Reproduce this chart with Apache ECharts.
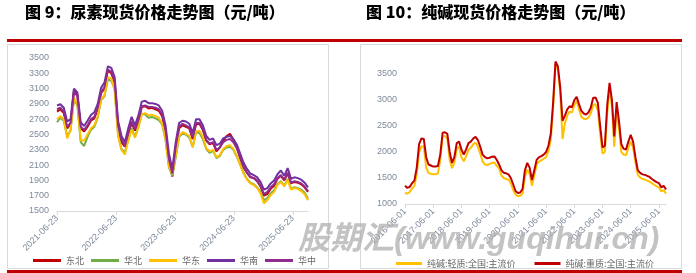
<!DOCTYPE html>
<html><head><meta charset="utf-8">
<script src="https://cdn.jsdelivr.net/npm/echarts@6/dist/echarts.min.js"></script>
<style>html,body{margin:0;padding:0;background:#fff}#c{width:696px;height:273px}</style>
</head><body><div id="c"></div>
<script>
// ---------- Urea (left) ----------
const ureaTickLabels = ['2021-06-23','2022-06-23','2023-06-23','2024-06-23','2025-06-23'];
const ureaStepDays = 21; // one sample every 21 days from 2021-06-23
const ureaNames = ['东北','华北','华东','华南','华中'];
const ureaColors = ['#C00000','#70AD47','#FFC000','#7030A0','#912C8C'];
const urea_dongbei = [2800,2830,2780,2580,2640,3080,3020,2580,2540,2600,2680,2710,2830,3040,3100,3340,3300,3180,2600,2400,2340,2500,2650,2550,2680,2860,2870,2840,2850,2830,2810,2740,2540,2150,1950,2320,2580,2620,2600,2580,2440,2630,2640,2560,2420,2370,2390,2280,2330,2420,2480,2510,2430,2330,2190,2070,2000,1940,1930,1890,1820,1700,1720,1790,1830,1920,1960,1900,1990,1860,1880,1870,1850,1810,1750];
const urea_huabei = [2660,2720,2680,2480,2550,2960,2880,2400,2350,2470,2560,2600,2720,2950,3000,3220,3200,3100,2500,2310,2260,2430,2580,2470,2600,2770,2760,2720,2730,2710,2690,2630,2430,2070,1960,2200,2470,2510,2500,2460,2340,2530,2520,2440,2310,2260,2290,2190,2220,2300,2330,2340,2300,2210,2110,2000,1920,1870,1850,1810,1750,1640,1670,1730,1770,1850,1890,1830,1920,1790,1810,1800,1780,1740,1660];
const urea_huadong = [2700,2740,2700,2450,2560,2980,2900,2420,2420,2500,2580,2620,2730,2960,3010,3250,3230,3080,2480,2300,2240,2420,2560,2460,2590,2760,2780,2750,2760,2740,2720,2640,2440,2080,1980,2220,2480,2530,2510,2480,2330,2540,2550,2470,2320,2280,2300,2200,2230,2310,2350,2360,2310,2220,2100,1990,1910,1860,1840,1800,1730,1600,1640,1710,1750,1840,1880,1820,1910,1780,1800,1790,1760,1720,1640];
const urea_huanan = [2880,2895,2850,2670,2700,3100,3050,2660,2610,2680,2755,2790,2900,3110,3180,3390,3370,3250,2680,2480,2400,2580,2730,2620,2750,2930,2940,2910,2910,2900,2880,2810,2620,2250,2050,2400,2650,2680,2670,2640,2520,2700,2700,2620,2480,2430,2450,2360,2380,2450,2470,2480,2440,2370,2250,2130,2050,1990,1970,1940,1880,1780,1800,1860,1900,1980,2030,1960,2060,1920,1940,1930,1910,1870,1810];
const urea_huazhong = [2830,2850,2800,2600,2650,3060,3000,2600,2560,2620,2700,2730,2850,3050,3120,3350,3320,3200,2620,2430,2350,2520,2670,2570,2690,2870,2880,2860,2860,2850,2830,2760,2560,2180,1990,2340,2600,2640,2620,2590,2460,2650,2650,2570,2430,2380,2400,2300,2330,2400,2430,2440,2400,2320,2200,2080,2000,1950,1930,1900,1830,1720,1750,1810,1850,1930,1970,1910,2000,1870,1890,1880,1860,1820,1760];
const ureaSeriesValues = [urea_dongbei, urea_huabei, urea_huadong, urea_huanan, urea_huazhong];
const ureaYTicks = {min:1500, max:3500, interval:200};

// ---------- Soda ash (right) ----------
const sodaTickLabels = ['2016-06-01','2017-06-01','2018-06-01','2019-06-01','2020-06-01','2021-06-01','2022-06-01','2023-06-01','2024-06-01','2025-06-01'];
const sodaNames = ['纯碱:轻质:全国:主流价','纯碱:重质:全国:主流价'];
const sodaColors = ['#FFC000','#C00000'];
const soda_light = [1210,1200,1230,1300,1350,1580,2000,2110,2100,1700,1600,1580,1570,1570,1590,1850,2300,2310,2250,1850,1690,1800,2060,2100,1900,1820,1920,2040,2080,2150,2180,2100,1970,1820,1760,1750,1770,1790,1800,1730,1690,1550,1500,1480,1470,1400,1270,1180,1150,1160,1200,1520,1660,1580,1350,1550,1760,1820,1840,1870,1900,2020,2240,2850,3680,3600,3150,2250,2550,2700,2780,2760,2900,2980,2820,2680,2640,2630,2660,2740,2900,2920,2800,2350,1970,2000,2750,3230,2880,2100,2820,2450,2000,1950,1940,2080,2200,2080,1800,1560,1510,1480,1470,1450,1430,1400,1370,1340,1320,1240,1270,1200];
const soda_heavy = [1350,1310,1330,1400,1450,1700,2150,2260,2250,1900,1760,1740,1720,1720,1730,1950,2370,2380,2350,2000,1790,1900,2170,2200,2050,1950,2050,2170,2200,2260,2290,2230,2100,1950,1900,1880,1890,1910,1915,1850,1760,1650,1600,1590,1570,1500,1380,1250,1210,1220,1290,1650,1790,1700,1460,1650,1850,1900,1920,1950,2000,2120,2350,2950,3740,3650,3250,2600,2700,2820,2880,2860,3000,3060,2920,2790,2740,2720,2760,2850,3040,3050,2950,2500,2090,2120,2900,3330,3000,2300,2960,2600,2150,2060,2050,2200,2330,2200,1900,1650,1600,1570,1560,1540,1520,1480,1450,1420,1400,1320,1350,1280];
const sodaSeriesValues = [soda_light, soda_heavy];
const sodaYTicks = {min:1000, max:4000, interval:500};

// month categories 2016-06 .. 2025-09
const sodaMonths = [];
for (let y = 2016, m = 6; sodaMonths.length < soda_heavy.length; ) {
  sodaMonths.push(y + '-' + String(m).padStart(2,'0'));
  m++; if (m > 12) { m = 1; y++; }
}

const axisLabelColor = '#7f8a9c';
const axisLineColor = '#d9d9d9';
const lastUreaDay = (urea_huanan.length - 1) * ureaStepDays;

const series = [];
ureaSeriesValues.forEach((vals, k) => {
  series.push({
    name: ureaNames[k], type: 'line', xAxisIndex: 0, yAxisIndex: 0,
    data: vals.map((v, i) => [i * ureaStepDays, v]),
    symbol: 'none', lineStyle: {width: 2, color: ureaColors[k]}, itemStyle: {color: ureaColors[k]}
  });
});
sodaSeriesValues.forEach((vals, k) => {
  series.push({
    name: sodaNames[k], type: 'line', xAxisIndex: 1, yAxisIndex: 1,
    data: vals, symbol: 'none',
    lineStyle: {width: 2, color: sodaColors[k]}, itemStyle: {color: sodaColors[k]}
  });
});

const chart = echarts.init(document.getElementById('c'), null, {renderer: 'canvas'});
chart.setOption({
  animation: false,
  backgroundColor: '#fff',
  grid: [
    {left: 57, top: 58, width: 251, height: 153},
    {left: 405, top: 48, width: 261, height: 156}
  ],
  xAxis: [
    {gridIndex: 0, type: 'value', min: 0, max: lastUreaDay, interval: 365,
     axisLine: {lineStyle: {color: axisLineColor}},
     axisTick: {show: true, length: 4, lineStyle: {color: axisLineColor}},
     splitLine: {show: false},
     axisLabel: {rotate: 45, fontSize: 9, color: axisLabelColor, margin: 6, showMaxLabel: false,
       formatter: v => { const k = Math.round(v / 365); return (Math.abs(v - k*365) < 1 && ureaTickLabels[k]) ? ureaTickLabels[k] : ''; }}},
    {gridIndex: 1, type: 'category', data: sodaMonths, boundaryGap: false,
     axisLine: {lineStyle: {color: axisLineColor}},
     axisTick: {show: true, length: 4, interval: 11, lineStyle: {color: axisLineColor}},
     axisLabel: {rotate: 45, fontSize: 9, color: axisLabelColor, margin: 6, interval: 11,
       formatter: (v, idx) => sodaTickLabels[Math.round(idx / 12)] || ''}}
  ],
  yAxis: [
    {gridIndex: 0, type: 'value', min: ureaYTicks.min, max: ureaYTicks.max, interval: ureaYTicks.interval,
     axisLine: {show: false}, axisTick: {show: false}, splitLine: {show: false},
     axisLabel: {fontSize: 9, color: axisLabelColor, margin: 8, formatter: v => String(v)}},
    {gridIndex: 1, type: 'value', min: sodaYTicks.min, max: sodaYTicks.max, interval: sodaYTicks.interval,
     axisLine: {show: false}, axisTick: {show: false}, splitLine: {show: false},
     axisLabel: {fontSize: 9, color: axisLabelColor, margin: 8, showMaxLabel: false, formatter: v => String(v)}}
  ],
  legend: [
    {data: ureaNames, left: 33, top: 256, padding: 0, icon: 'rect', itemWidth: 28, itemHeight: 3, itemGap: 7,
     textStyle: {fontSize: 9, color: '#666', fontFamily: 'Noto Sans CJK SC'}, selectedMode: false},
    {data: sodaNames, left: 396, top: 259, padding: 0, icon: 'rect', itemWidth: 26, itemHeight: 3, itemGap: 19,
     textStyle: {fontSize: 9, color: '#666', fontFamily: 'Noto Sans CJK SC'}, selectedMode: false}
  ],
  graphic: [
    {type: 'rect', shape: {x: 7.5, y: 44.5, width: 321, height: 224}, style: {fill: 'none', stroke: '#d9d9d9', lineWidth: 1}, z: 1},
    {type: 'rect', shape: {x: 360.5, y: 44.5, width: 321, height: 224}, style: {fill: 'none', stroke: '#d9d9d9', lineWidth: 1}, z: 1},
    {type: 'rect', shape: {x: 7, y: 39, width: 675, height: 3}, style: {fill: '#C00000'}, z: 2},
    {type: 'rect', shape: {x: 7, y: 270, width: 675, height: 3}, style: {fill: '#C00000'}, z: 2},
    {type: 'text', x: 25, y: 12, style: {text: '图 9：尿素现货价格走势图（元/吨）', fill: '#000', font: '900 16px "Noto Sans CJK SC"', textVerticalAlign: 'middle'}, z: 3},
    {type: 'text', x: 366, y: 12, style: {text: '图 10：纯碱现货价格走势图（元/吨）', fill: '#000', font: '900 16px "Noto Sans CJK SC"', textVerticalAlign: 'middle'}, z: 3},
    {type: 'text', x: 298, y: 240, style: {text: '股期汇(www.guqihui.cn)', fill: 'rgba(175,175,175,0.75)', font: 'italic bold 32px "Liberation Sans", "Noto Sans CJK SC"', textVerticalAlign: 'middle'}, z: 100}
  ],
  series: series
});
</script></body></html>
